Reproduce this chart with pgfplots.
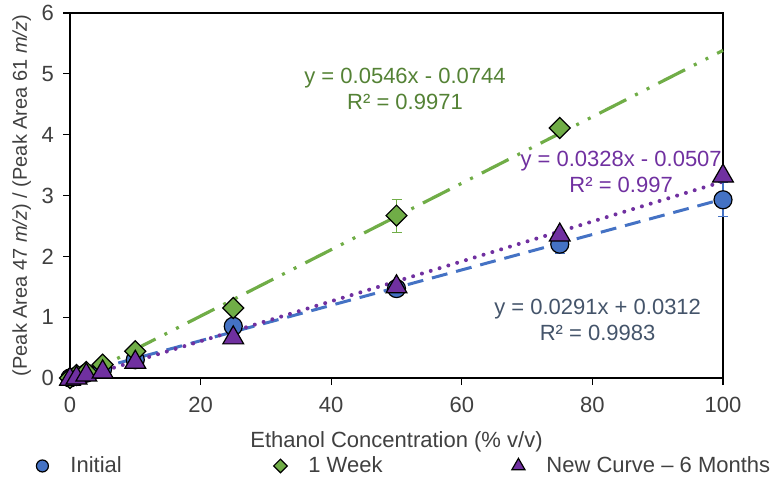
\documentclass[border=0pt]{standalone}
\usepackage{fontspec}
\setmainfont{Liberation Sans}
\usepackage{pgfplots}
\pgfplotsset{compat=1.18}
\definecolor{cblue}{HTML}{4472C4}
\definecolor{cgreen}{HTML}{70AD47}
\definecolor{cpurple}{HTML}{7030A0}
\definecolor{tgreen}{HTML}{548235}
\definecolor{tblue}{HTML}{44546A}
\definecolor{tgray}{HTML}{404040}
\begin{document}
\begin{tikzpicture}[font=\fontsize{11}{13}\selectfont]
\useasboundingbox (-35pt,-53pt) rectangle (355pt,189pt);
\begin{axis}[
  at={(0,0)}, anchor=south west,
  scale only axis, width=326.5pt, height=182.5pt,
  xmin=0, xmax=100, ymin=0, ymax=6,
  xtick={0,20,40,60,80,100}, ytick={0,1,2,3,4,5,6},
  xtick pos=bottom, ytick pos=left,
  tick align=outside, major tick length=3.5pt,
  tick style={black, line width=0.6pt},
  axis line style={black, line width=0.6pt},
  /pgf/number format/assume math mode=true,
  ticklabel style={text=tgray, font=\fontsize{11}{13}\selectfont},
  xticklabel style={yshift=-2.5pt},
  yticklabel style={xshift=-1pt},
  xlabel={Ethanol Concentration (\% v/v)},
  ylabel={(Peak Area 47 \textit{m/z}) / (Peak Area 61 \textit{m/z})},
  label style={text=tgray},
  xlabel style={at={(axis description cs:0.5,-0.175)}, anchor=center},
  ylabel style={at={(axis description cs:-0.074,0.5)}, anchor=center, font=\fontsize{10}{12}\selectfont},
  clip=false,
  legend columns=3,
  legend style={draw=none, fill=none, at={(axis description cs:-0.0551,-0.241)}, anchor=west,
    inner xsep=0pt, inner ysep=0pt, column sep=0pt, nodes={inner sep=0pt},
    font=\fontsize{11}{13}\selectfont, text=tgray},
  legend cell align=left,
  legend image code/.code={\path[draw=none, fill=none] (-4pt,-4pt) rectangle (4pt,4pt); \draw[#1] plot coordinates {(0pt,0pt)};},
]
% trendlines
\addplot[forget plot, cgreen, line width=1.6pt, dash pattern=on 15pt off 5pt on 1.5pt off 5pt on 1.5pt off 5pt] coordinates {(0,-0.0744) (100,5.3856)};
\addplot[forget plot, cblue, line width=1.5pt, dash pattern=on 8pt off 4.5pt] coordinates {(0,0.0312) (100,2.9412)};
\addplot[forget plot, cpurple, line width=2pt, dash pattern=on 0pt off 4.6pt, line cap=round] coordinates {(0,-0.0507) (100,3.2293)};
% data
\addplot[only marks, mark=*, mark size=4.5pt, mark options={fill=cblue, draw=black, line width=0.6pt},
  legend image post style={mark size=3pt},
  error bars/.cd, y dir=both, y explicit, error bar style={cblue, line width=0.6pt}, error mark options={rotate=90, mark size=2.5pt, cblue}]
  coordinates {(0,0.0) (1,0.03) (2.5,0.08) (5,0.15) (10,0.3) (25,0.85) (50,1.47) (75,2.2) +- (0,0.15) (100,2.93) +- (0,0.28)};
\addlegendentry{\makebox[111pt][l]{\hspace{10pt}Initial}}
\addplot[only marks, mark=square*, mark size=3.7pt, mark options={rotate=45, fill=cgreen, draw=black, line width=0.6pt},
  legend image post style={mark size=2.4pt},
  error bars/.cd, y dir=both, y explicit, error bar style={cgreen, line width=0.6pt}, error mark options={rotate=90, mark size=2.5pt, cgreen}]
  coordinates {(0,0.0) (1,0.05) (2.5,0.1) (5,0.22) (10,0.44) (25,1.15) (50,2.67) +- (0,0.27) (75,4.11)};
\addlegendentry{\makebox[111pt][l]{\hspace{10pt}1 Week}}
\addplot[only marks, mark=triangle*, mark size=6pt, mark options={fill=cpurple, draw=black, line width=0.6pt},
  legend image post style={mark size=3.8pt}]
  coordinates {(0,-0.02) (1,0.0) (2.5,0.05) (5,0.1) (10,0.26) (25,0.66) (50,1.5) (75,2.35) (100,3.32)};
\addlegendentry{\hspace{10pt}New Curve – 6 Months}
% annotations
\node[align=center, text=tgreen] at (axis cs:51.3,4.75) {y = 0.0546x - 0.0744\\R² = 0.9971};
\node[align=center, text=cpurple] at (axis cs:84.4,3.39) {y = 0.0328x - 0.0507\\R² = 0.997};
\node[align=center, text=tblue] at (axis cs:80.8,0.96) {y = 0.0291x + 0.0312\\R² = 0.9983};
\end{axis}
\end{tikzpicture}
\end{document}
